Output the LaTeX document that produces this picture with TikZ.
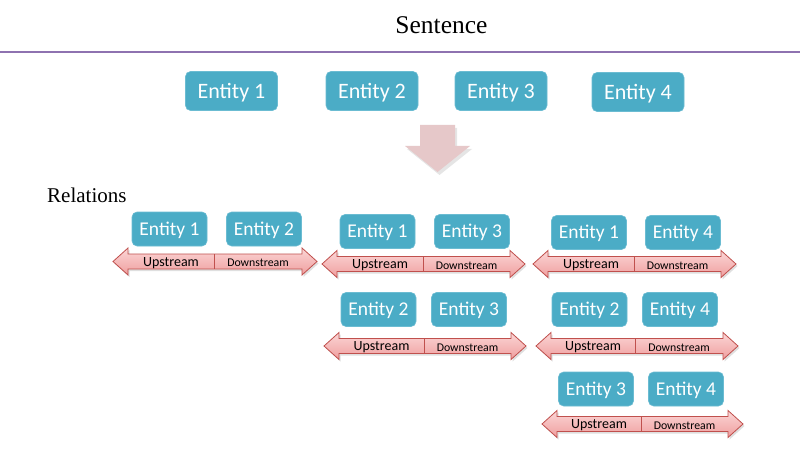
\documentclass[tikz,border=0pt]{standalone}
\usepackage{fontspec}
\setmainfont{Liberation Serif}
\newfontfamily\calfont{Carlito}
\usetikzlibrary{shadows}
\definecolor{entblue}{HTML}{4BACC6}
\definecolor{entedge}{HTML}{6BBCD2}
\definecolor{arrborder}{HTML}{C0504D}
\definecolor{arrtop}{HTML}{FBD6D6}
\definecolor{arrbot}{HTML}{EF9E9E}
\definecolor{downpink}{HTML}{E6C8C9}
\definecolor{linepurple}{HTML}{8E72B0}
\tikzset{
  ent/.style={fill=entblue, draw=entedge, line width=0.6pt, rounded corners=5pt, text=white,
    font=\calfont\fontsize{19.5}{21}\selectfont, minimum width=75pt, minimum height=34pt, inner sep=0pt,
    text height=12.6pt, text depth=0pt},
  bigent/.style={ent, minimum width=92pt, minimum height=39pt, font=\calfont\fontsize{22}{24}\selectfont,
    text height=14.2pt},
  uplabel/.style={font=\calfont\fontsize{14}{15}\selectfont, inner sep=0pt},
  downlabel/.style={font=\calfont\fontsize{11.8}{13}\selectfont, inner sep=0pt},
  relarr/.style={draw=arrborder, line width=0.8pt, top color=arrtop, bottom color=arrbot,
    drop shadow={shadow xshift=1.5pt, shadow yshift=-2pt, opacity=0.25}},
}
% #1 left tip x, #2 right tip x, #3 divider x, #4 centre y, #5 name
\newcommand\relarrow[5]{%
  \path[relarr] (#1,#4) -- (#1+15,#4-13.5) -- (#1+15,#4-7.5) -- (#2-15,#4-7.5) -- (#2-15,#4-13.5)
    -- (#2,#4) -- (#2-15,#4+13.5) -- (#2-15,#4+7.5) -- (#1+15,#4+7.5) -- (#1+15,#4+13.5) -- cycle;
  \coordinate (#5dt) at (#3,#4-7.5);
  \coordinate (#5db) at (#3,#4+7.5);
  \draw[arrborder, line width=0.8pt] (#5dt) -- (#5db);
  \node[uplabel] (#5up) at ({(#1+15+#3)/2},#4+1.5) {Upstream};
  \node[downlabel] (#5down) at ({(#3+#2-15)/2},#4+1.5) {Downstream};
}
\begin{document}
\begin{tikzpicture}[x=1pt,y=-1pt]
\useasboundingbox (0,0) rectangle (800,449);
\fill[white] (0,0) rectangle (800,449);
% title and line
\node[font=\fontsize{25.5}{28}\selectfont, inner sep=0pt] (title) at (441.5,25) {Sentence};
\coordinate (lineL) at (0,52);
\coordinate (lineR) at (800,52);
\draw[linepurple, line width=1.5pt] (lineL) -- (lineR);
% top entities
\node[bigent] (t1) at (231.5,91) {Entity 1};
\node[bigent] (t2) at (372,91) {Entity 2};
\node[bigent] (t3) at (501,91) {Entity 3};
\node[bigent] (t4) at (638,92) {Entity 4};
% down arrow
\fill[downpink, drop shadow={shadow xshift=2pt, shadow yshift=-3pt, opacity=0.2}]
  (420,125) -- (455,125) -- (455,146) -- (470,146) -- (437.5,172) -- (405,146) -- (420,146) -- cycle;
% Relations
\node[font=\fontsize{21}{23}\selectfont, inner sep=0pt, anchor=west] (rel) at (47,195) {Relations};
% group 1
\node[ent] (g1a) at (169.5,229) {Entity 1};
\node[ent] (g1b) at (264,229) {Entity 2};
\relarrow{113}{317}{214}{261.5}{a1}
% group 2
\node[ent] (g2a) at (377.5,231.5) {Entity 1};
\node[ent] (g2b) at (472,231.5) {Entity 3};
\relarrow{322}{525}{423}{264}{a2}
% group 3
\node[ent] (g3a) at (378.5,309.5) {Entity 2};
\node[ent] (g3b) at (469,309.5) {Entity 3};
\relarrow{324}{526}{424}{346}{a3}
% group 4
\node[ent] (g4a) at (589,232.5) {Entity 1};
\node[ent] (g4b) at (683,232.5) {Entity 4};
\relarrow{533}{736}{634}{264}{a4}
% group 5
\node[ent] (g5a) at (589.5,309.5) {Entity 2};
\node[ent] (g5b) at (680,309.5) {Entity 4};
\relarrow{536}{738}{635}{346}{a5}
% group 6
\node[ent] (g6a) at (596,389) {Entity 3};
\node[ent] (g6b) at (686,389) {Entity 4};
\relarrow{542}{743}{641}{424}{a6}
\end{tikzpicture}
\end{document}
